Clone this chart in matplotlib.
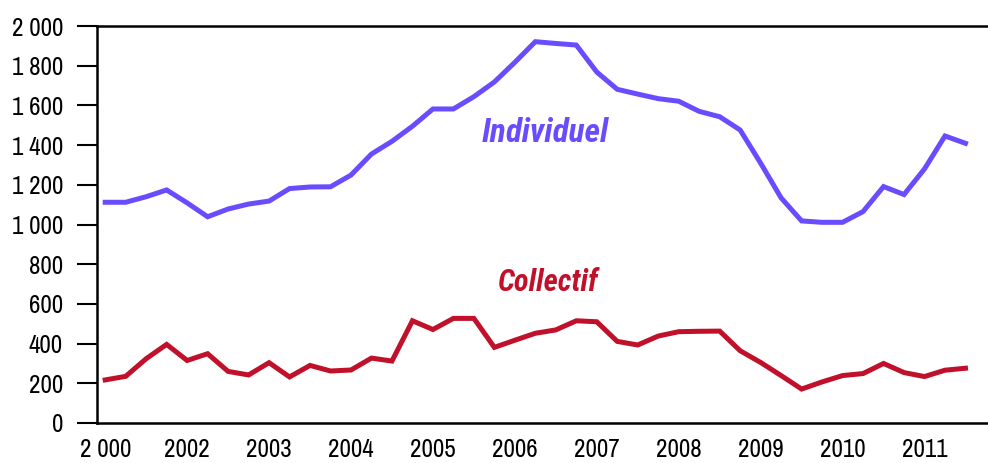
import matplotlib
matplotlib.use("Agg")
import matplotlib.pyplot as plt
from matplotlib import font_manager

names = {f.name for f in font_manager.fontManager.ttflist}
def pick(cands):
    for c in cands:
        if c in names:
            return c
    return "Liberation Sans"
TICK_FONT = pick(["Archivo Narrow", "Roboto Condensed", "PT Sans Narrow", "Liberation Sans"])
LABEL_FONT = pick(["Roboto Condensed", "Archivo Narrow", "Liberation Sans"])
plt.rcParams['font.family'] = [TICK_FONT, 'DejaVu Sans']

# Quarterly values (index 0 = first quarter shown)
individuel = [1112, 1112, 1140, 1174, 1109, 1039, 1078, 1103, 1118, 1181,
              1189, 1190, 1249, 1355, 1419, 1495, 1582, 1582, 1644, 1718,
              1817, 1921, 1912, 1904, 1768, 1681, 1657, 1634, 1621, 1570,
              1543, 1476, 1309, 1134, 1018, 1011, 1011, 1065, 1191, 1151,
              1280, 1446, 1409]
collectif = [217, 235, 324, 396, 315, 349, 260, 242, 304, 232,
             290, 262, 267, 327, 312, 515, 471, 527, 527, 381,
             417, 452, 469, 515, 510, 411, 393, 438, 460, 462,
             463, 364, 305, 239, 171, 207, 239, 249, 300, 254,
             234, 266, 276]
year_labels = ["2 000", "2002", "2003", "2004", "2005", "2006",
               "2007", "2008", "2009", "2010", "2011"]
y_ticks = [0, 200, 400, 600, 800, 1000, 1200, 1400, 1600, 1800, 2000]

def fmt(v):
    return f"{v:,}".replace(",", " ")

fig = plt.figure(figsize=(9.88, 4.63), dpi=100)
ax = fig.add_axes([97/988, 1-423/463, (988-97)/988, (423-26)/463])

x = list(range(len(individuel)))
c_ind = "#6A4CFF"
c_col = "#C0102A"
ax.plot(x, individuel, color=c_ind, lw=3.6, solid_joinstyle='miter', clip_on=False)
ax.plot(x, collectif, color=c_col, lw=3.6, solid_joinstyle='miter', clip_on=False)

ax.set_xlim(-0.4, 43.1)
ax.set_ylim(0, 2000)

ax.set_yticks(y_ticks)
ax.set_yticklabels([fmt(v) for v in y_ticks], fontsize=18)
ax.set_xticks([4 * i for i in range(len(year_labels))])
ax.set_xticklabels(year_labels, fontsize=18)

ax.tick_params(axis='y', direction='out', length=14.4, width=1.5, pad=10)
ax.tick_params(axis='x', length=0, pad=11)

for s in ['left', 'bottom', 'top']:
    ax.spines[s].set_linewidth(1.8)
ax.spines['right'].set_visible(False)

ax.text(21.5, 1460, "Individuel", color=c_ind, fontsize=24, fontweight='bold',
        fontstyle='italic', ha='center', va='center', family=[LABEL_FONT, 'DejaVu Sans'])
ax.text(21.65, 710, "Collectif", color=c_col, fontsize=22, fontweight='bold',
        fontstyle='italic', ha='center', va='center', family=[LABEL_FONT, 'DejaVu Sans'])

fig.savefig("out.png", dpi=100)
